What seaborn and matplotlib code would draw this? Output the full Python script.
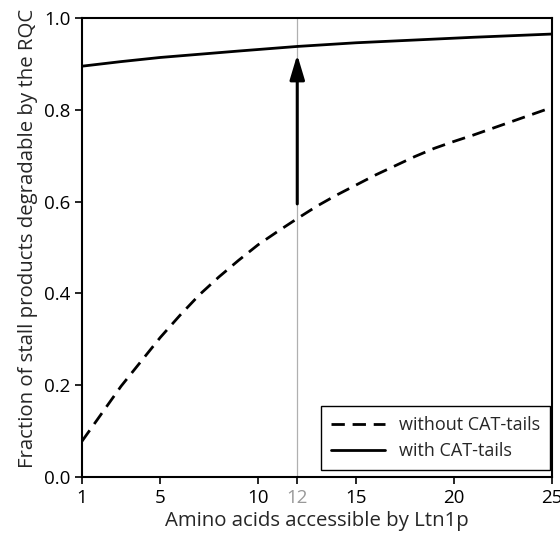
import numpy as np
import pandas as pd
import matplotlib
matplotlib.use("Agg")
import matplotlib.pyplot as plt
import seaborn as sns

# Data
x_dashed = [1, 2, 3, 4, 5, 6, 7, 8, 9, 10, 11, 12, 13, 14, 15, 16, 17, 18, 19, 20, 21, 22, 23, 24, 25]
y_without = [0.078, 0.138, 0.198, 0.251, 0.304, 0.352, 0.397, 0.436, 0.472, 0.506, 0.535, 0.563,
             0.590, 0.614, 0.636, 0.658, 0.678, 0.698, 0.716, 0.731, 0.745, 0.760, 0.775, 0.790, 0.805]
x_solid = [1, 3, 5, 7, 9, 12, 15, 18, 21, 25]
y_with = [0.895, 0.905, 0.914, 0.921, 0.928, 0.938, 0.946, 0.952, 0.958, 0.965]
x_ticks = [1, 5, 10, 12, 15, 20, 25]
y_ticks = [0.0, 0.2, 0.4, 0.6, 0.8, 1.0]
highlight_x = 12
arrow_start = 0.595
arrow_end = 0.92
labels = ["without CAT-tails", "with CAT-tails"]

sns.set_style("ticks")
plt.rcParams["font.family"] = ["Open Sans", "DejaVu Sans"]

fig = plt.figure(figsize=(5.6, 5.37), dpi=100)
ax = fig.add_axes([0.1464, 0.1117, 0.8387, 0.8548])

df1 = pd.DataFrame({"x": x_dashed, "y": y_without})
df2 = pd.DataFrame({"x": x_solid, "y": y_with})

ax.axvline(highlight_x, color="#b0b0b0", lw=0.9, zorder=0)

sns.lineplot(data=df1, x="x", y="y", ax=ax, color="black", lw=2.0,
             label=labels[0])
ax.lines[-1].set_dashes((4.8, 2.8))
sns.lineplot(data=df2, x="x", y="y", ax=ax, color="black", lw=2.0,
             label=labels[1])

ax.annotate("", xy=(highlight_x, arrow_end), xytext=(highlight_x, arrow_start),
            arrowprops=dict(arrowstyle="-|>,head_length=1.5,head_width=0.45",
                            color="black", lw=2.2, shrinkA=0, shrinkB=0))

ax.set_xlim(1, 25)
ax.set_ylim(0, 1.0)
ax.set_xticks(x_ticks)
ax.set_xticklabels([str(t) for t in x_ticks])
ax.set_yticks(y_ticks)
ax.set_yticklabels([f"{t:.1f}" for t in y_ticks])

ax.tick_params(axis="both", direction="out", length=5, width=1.2, labelsize=13.5, colors="black")
for lab, t in zip(ax.get_xticklabels(), x_ticks):
    if t == highlight_x:
        lab.set_color("#999999")
for s in ax.spines.values():
    s.set_visible(True)
    s.set_linewidth(1.5)
    s.set_color("black")

ax.set_xlabel("Amino acids accessible by Ltn1p", fontsize=14.7, labelpad=3)
ax.set_ylabel("Fraction of stall products degradable by the RQC", fontsize=14.7)
ax.yaxis.set_label_coords(-0.094, 0.52)

leg = ax.legend(loc="lower right", bbox_to_anchor=(0.997, 0.015), fontsize=13,
                frameon=True, fancybox=False, edgecolor="black", handlelength=3.0,
                borderaxespad=0.0, labelspacing=0.45, borderpad=0.55)
leg.get_frame().set_linewidth(1.0)
leg.get_frame().set_alpha(1)

fig.savefig("out.png", dpi=100, facecolor="white")
